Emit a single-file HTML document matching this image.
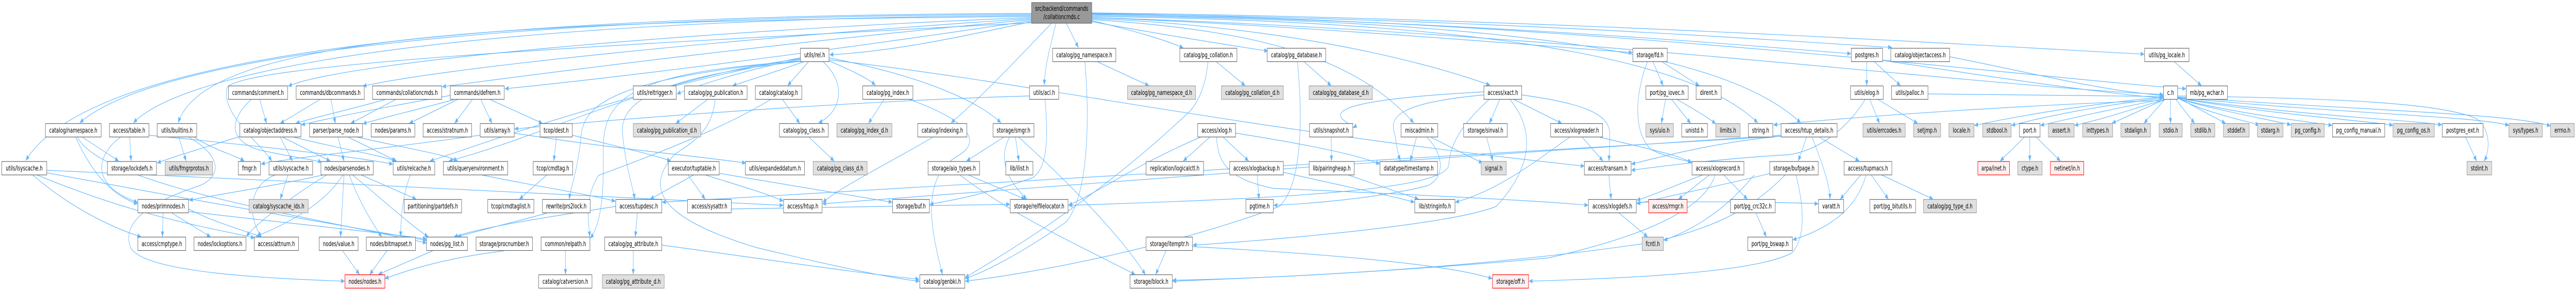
<!DOCTYPE html>
<html><head><meta charset="utf-8"><style>
html,body{margin:0;padding:0;background:#fff;width:100%;height:564px;overflow:hidden;}
svg{display:block;position:absolute;left:0;top:0;width:100vw;height:564px;}
text{font-family:"DejaVu Sans","Liberation Sans",sans-serif;font-size:13px;fill:#000;text-anchor:middle;}
.w{fill:#fff;stroke:#666;stroke-width:1.2;}
.g{fill:#e0e0e0;stroke:#999;stroke-width:1.2;}
.r{fill:#fff0f0;stroke:#f00;stroke-width:1.2;}
.rt{fill:#999;stroke:#666;stroke-width:1.2;}
.e path{fill:none;stroke:#63b8ff;stroke-width:1.2;marker-end:url(#a);}
</style></head><body>
<svg viewBox="0 0 7489 564" preserveAspectRatio="none" xmlns="http://www.w3.org/2000/svg" text-anchor="middle" overflow="hidden">
<defs><marker id="a" markerWidth="11" markerHeight="9" refX="10.5" refY="4.5" orient="auto" markerUnits="userSpaceOnUse"><path d="M0,0 L11,4.5 L0,9 z" fill="#63b8ff"/></marker></defs>
<g class="e">
<path d="M2999,26 C1200,30 250,120 75,311"/>
<path d="M2999,28 C1400,32 450,110 232,238"/>
<path d="M2999,30 C1500,36 560,120 388,238"/>
<path d="M2999,32 C1600,40 600,60 518,238"/>
<path d="M2999,34 C2000,60 1000,120 838,167"/>
<path d="M2999,36 C2200,70 1300,130 1055,167"/>
<path d="M2999,38 C2300,80 1600,140 1286,168"/>
<path d="M2999,40 C2400,100 1800,150 1468,172"/>
<path d="M2999,42 C2800,70 2600,100 2412,106"/>
<path d="M2999,44 C2000,80 700,120 660,170 C640,220 760,280 790,312"/>
<path d="M3057,45 C2950,120 2850,190 2765,238"/>
<path d="M3070,45 C3050,100 3037,130 3036,165"/>
<path d="M3100,45 L3135,92"/>
<path d="M3174,40 C3300,60 3400,80 3440,93"/>
<path d="M3174,42 C3400,70 3600,90 3686,99"/>
<path d="M3174,38 C3700,60 3950,120 4110,238"/>
<path d="M3174,36 C3700,50 4100,110 4332,165"/>
<path d="M3174,34 C3800,50 4500,90 4746,102"/>
<path d="M3174,32 C4200,40 4900,100 5110,238"/>
<path d="M3174,30 C4300,40 5000,90 5235,238"/>
<path d="M3174,28 C4300,40 5100,90 5381,104"/>
<path d="M3174,27 C4300,35 5200,80 5500,92"/>
<path d="M3174,25 C4500,35 5800,90 6234,105"/>
<path d="M3174,26 C4600,40 5900,150 6355,172"/>
<path d="M3174,34 C4500,60 5800,170 6289,183"/>
<path d="M2327,115 C2200,130 2050,160 1968,182"/>
<path d="M2335,120 C2250,140 2180,155 2130,166"/>
<path d="M2350,120 L2290,166"/>
<path d="M2392,119 C2460,160 2450,215 2380,238"/>
<path d="M2410,118 C2470,135 2520,150 2545,165"/>
<path d="M2327,112 C1800,180 1400,280 1250,312"/>
<path d="M2327,114 C1900,150 1600,260 1305,312"/>
<path d="M2327,118 C1800,150 1700,200 1690,260 C1680,330 1660,360 1655,386"/>
<path d="M2327,119 C1900,150 1800,200 1810,260 C1820,330 1840,360 1845,386"/>
<path d="M2327,119 C1800,140 1750,200 1754,300 C1756,400 1740,440 1716,462"/>
<path d="M2410,112 C2700,150 2850,200 2910,238"/>
<path d="M2410,116 C3000,160 3600,250 4606,322"/>
<path d="M95,339 C200,400 320,440 410,459"/>
<path d="M107,339 C400,420 600,440 740,461"/>
<path d="M136,330 C800,350 1800,380 2277,398"/>
<path d="M136,335 C500,380 1000,440 1240,466"/>
<path d="M240,266 L345,312"/>
<path d="M220,266 C270,340 330,380 400,395"/>
<path d="M225,266 C300,360 900,420 1240,471"/>
<path d="M377,266 L381,312"/>
<path d="M350,266 C280,300 260,360 400,392"/>
<path d="M433,262 C700,280 1000,300 1142,318"/>
<path d="M520,266 L541,312"/>
<path d="M565,266 C620,290 680,300 710,312"/>
<path d="M549,266 C640,300 650,340 580,360 C440,390 350,430 380,480 C420,530 800,540 1002,545"/>
<path d="M474,413 L472,459"/>
<path d="M500,413 L612,459"/>
<path d="M548,405 C620,430 700,445 760,459"/>
<path d="M548,410 C800,430 1100,450 1240,463"/>
<path d="M755,193 L775,239"/>
<path d="M730,193 C670,230 660,270 750,290 C850,305 920,310 935,315"/>
<path d="M930,193 L815,239"/>
<path d="M962,193 L975,239"/>
<path d="M1120,193 C1000,215 900,230 860,239"/>
<path d="M1150,193 L1020,239"/>
<path d="M1309,185 C1100,210 950,230 876,242"/>
<path d="M1320,193 C1200,215 1100,230 1055,240"/>
<path d="M1330,193 L1190,239"/>
<path d="M1373,193 L1322,239"/>
<path d="M1398,193 L1430,239"/>
<path d="M1425,193 L1577,239"/>
<path d="M815,266 L850,312"/>
<path d="M822,266 L960,312"/>
<path d="M855,266 C1000,290 1100,300 1150,312"/>
<path d="M700,264 C600,285 520,300 457,316"/>
<path d="M983,266 L1000,312"/>
<path d="M1013,266 L1153,312"/>
<path d="M1040,266 C1200,290 1300,300 1330,312"/>
<path d="M1396,262 C1100,290 850,305 759,318"/>
<path d="M1495,258 C1800,290 2000,300 2168,316"/>
<path d="M1618,266 L1610,312"/>
<path d="M1664,262 C1800,285 1900,300 1950,312"/>
<path d="M837,339 L815,386"/>
<path d="M800,339 C720,360 720,420 760,459"/>
<path d="M1000,339 L990,459"/>
<path d="M1015,339 C1050,400 1090,440 1110,459"/>
<path d="M997,339 C950,390 850,430 745,458"/>
<path d="M1050,339 L1210,386"/>
<path d="M1025,339 C1100,380 1200,440 1245,459"/>
<path d="M940,339 C800,360 650,375 550,388"/>
<path d="M950,339 C850,380 750,430 716,458"/>
<path d="M1193,339 C1170,380 1165,420 1165,459"/>
<path d="M1125,486 L1075,532"/>
<path d="M996,486 L1045,532"/>
<path d="M1258,486 L1100,532"/>
<path d="M1590,339 L1510,386"/>
<path d="M1644,486 L1644,532"/>
<path d="M1853,413 L1847,459"/>
<path d="M1841,486 L1841,532"/>
<path d="M1790,400 C1600,420 1400,440 1320,459"/>
<path d="M1590,413 C1500,430 1400,445 1330,459"/>
<path d="M1400,339 C1550,360 1700,375 1789,390"/>
<path d="M1466,486 C1300,500 1200,520 1119,540"/>
<path d="M2057,193 L1965,239"/>
<path d="M2079,193 C2070,260 2000,280 1960,300 C1880,360 1900,420 2200,480 C2450,520 2600,540 2673,545"/>
<path d="M2275,193 L2325,239"/>
<path d="M2240,193 C2100,250 1900,300 1740,340 C1700,380 1710,430 1715,459"/>
<path d="M2352,266 L2425,312"/>
<path d="M2570,193 L2525,239"/>
<path d="M2645,193 C2800,230 2860,270 2790,300 C2680,340 2700,430 2740,532"/>
<path d="M2712,266 C2600,310 2450,360 2392,392"/>
<path d="M2918,266 L2810,312"/>
<path d="M2952,266 L2962,312"/>
<path d="M2935,266 C2900,310 2930,350 2985,386"/>
<path d="M2962,266 C3100,350 3250,450 3330,532"/>
<path d="M2815,339 L2980,386"/>
<path d="M2790,339 C2950,420 3150,480 3300,532"/>
<path d="M3038,193 C3050,280 3040,330 3000,345 C2850,380 2750,390 2703,396"/>
<path d="M2993,186 C2500,195 1800,230 1496,250"/>
<path d="M2017,339 L1890,386"/>
<path d="M2000,339 L2050,386"/>
<path d="M2050,339 C2150,360 2230,375 2277,390"/>
<path d="M2091,336 C2300,360 2500,380 2594,392"/>
<path d="M1924,475 C2200,500 2500,530 2672,541"/>
<path d="M2126,405 C2500,400 2800,397 2936,396"/>
<path d="M3188,119 L3340,166"/>
<path d="M3154,119 C3170,250 3160,380 3100,430 C2950,500 2850,530 2806,540"/>
<path d="M3535,119 L3620,166"/>
<path d="M3512,119 C3505,170 3480,200 3460,215 C3200,380 2950,480 2806,538"/>
<path d="M3790,119 L3870,166"/>
<path d="M3772,119 C3790,250 3780,360 3720,400 C3400,480 3000,530 2806,545"/>
<path d="M3517,266 L3440,312"/>
<path d="M3556,266 L3630,312"/>
<path d="M3490,266 C3300,320 3200,370 3106,398"/>
<path d="M3537,266 C3540,330 3600,350 3700,365 C4200,380 4500,390 4617,398"/>
<path d="M3592,258 C3800,280 3950,300 4011,318"/>
<path d="M3655,339 L3660,386"/>
<path d="M3731,334 C3900,360 4050,380 4112,392"/>
<path d="M3390,486 L3360,532"/>
<path d="M3467,478 C3800,490 4200,510 4338,540"/>
<path d="M3870,266 L3871,312"/>
<path d="M3919,339 L4124,386"/>
<path d="M4118,266 L4100,312"/>
<path d="M4160,266 L4310,316"/>
<path d="M4148,266 C4200,300 4200,345 4150,360 C4000,385 3800,395 3703,398"/>
<path d="M4360,193 L4330,239"/>
<path d="M4314,184 C4050,200 4040,230 4055,260 C4060,285 4065,300 4071,311"/>
<path d="M4402,193 L4540,239"/>
<path d="M4424,184 C4600,200 4680,220 4680,260 C4680,285 4678,300 4678,312"/>
<path d="M4329,193 C4250,240 4215,280 4212,320 C4200,370 3700,385 3107,398"/>
<path d="M4390,193 C4460,250 4460,320 4350,400 C4200,440 3600,470 3468,475"/>
<path d="M4314,178 C3700,200 3950,240 3934,248"/>
<path d="M4322,266 L4340,312"/>
<path d="M4600,266 L4660,312"/>
<path d="M4652,266 C4800,290 4880,300 4919,316"/>
<path d="M4563,266 C4450,320 4350,370 4231,392"/>
<path d="M4677,339 L4684,386"/>
<path d="M4707,413 L4790,459"/>
<path d="M4970,339 L4880,386"/>
<path d="M4950,339 C4850,365 4800,380 4758,388"/>
<path d="M5011,339 L5080,386"/>
<path d="M4986,339 C4950,420 4700,470 4500,500 C4000,530 3600,540 3409,545"/>
<path d="M4805,119 L4835,166"/>
<path d="M4830,119 L4940,166"/>
<path d="M4790,119 C4760,170 4740,250 4800,290 C4850,305 4890,310 4918,314"/>
<path d="M4842,193 L4830,239"/>
<path d="M4860,193 L4915,239"/>
<path d="M4876,193 C4920,210 4960,225 4988,240"/>
<path d="M5100,339 C5000,420 4900,450 4837,466"/>
<path d="M5427,119 L5427,166"/>
<path d="M5448,119 L5525,166"/>
<path d="M5473,117 C5800,150 6100,180 6289,190"/>
<path d="M5605,182 C5900,185 6100,186 6289,187"/>
<path d="M5668,110 C5900,140 6100,175 6289,185"/>
<path d="M5436,193 L5464,239"/>
<path d="M5460,193 L5575,239"/>
<path d="M5422,193 C5380,240 5300,290 5200,300 C5050,305 4850,320 4743,330"/>
<path d="M6290,195 C6000,200 5500,220 5156,242"/>
<path d="M5252,266 L5228,312"/>
<path d="M5268,266 C5300,320 5320,360 5320,386"/>
<path d="M5290,266 L5405,312"/>
<path d="M5178,262 C4500,290 3000,360 2391,395"/>
<path d="M5178,264 C4500,300 2500,360 1925,392"/>
<path d="M5178,264 C5000,275 4850,300 4743,318"/>
<path d="M5147,336 C5000,360 4850,380 4758,395"/>
<path d="M5190,339 C5100,400 5000,440 4800,470 C4300,520 3700,540 3409,543"/>
<path d="M5221,339 C5245,400 5250,460 5210,490 C5100,530 4700,540 4445,545"/>
<path d="M5410,339 L5350,386"/>
<path d="M5425,339 C5400,400 5330,440 5212,465"/>
<path d="M5440,339 L5490,386"/>
<path d="M5470,339 L5620,386"/>
<path d="M5105,413 L5135,459"/>
<path d="M4757,392 C5000,390 5200,392 5286,395"/>
<path d="M5885,266 L5815,312"/>
<path d="M5901,266 L5901,312"/>
<path d="M5920,266 L5990,312"/>
<path d="M6290,188 C6100,200 5900,220 5740,243"/>
<path d="M6290,190 C6100,205 5950,225 5848,243"/>
<path d="M6290,192 C6150,210 6050,225 5932,243"/>
<path d="M6290,194 C6200,210 6150,225 6031,243"/>
<path d="M6292,193 L6140,239"/>
<path d="M6293,193 L6233,239"/>
<path d="M6310,193 L6310,239"/>
<path d="M6326,193 L6380,239"/>
<path d="M6331,189 L6470,239"/>
<path d="M6331,190 C6400,215 6500,230 6568,242"/>
<path d="M6331,191 C6450,215 6600,232 6660,242"/>
<path d="M6331,191 C6500,220 6700,235 6780,243"/>
<path d="M6331,190 C6600,222 6900,235 6957,243"/>
<path d="M6331,190 C6700,225 7000,232 7099,242"/>
<path d="M6331,189 C6800,220 7200,225 7294,243"/>
<path d="M6331,188 C6900,215 7300,220 7415,244"/>
<path d="M6331,186 C6800,190 7100,200 7200,230 C7240,250 7240,290 7222,312"/>
<path d="M6320,119 L6400,166"/>
<path d="M7168,266 L7200,312"/>
</g>
<rect class="rt" x="2999" y="5" width="175" height="40"/>
<text x="3086.5" y="21" text-anchor="middle">src/backend/commands</text>
<text x="3086.5" y="37" text-anchor="middle">/collationcmds.c</text>
<g text-anchor="middle">
<rect class="w" x="2327" y="93.5" width="83" height="26"/><text x="2368.5" y="111">utils/rel.h</text>
<rect class="w" x="3060" y="93.5" width="184" height="26"/><text x="3152" y="111">catalog/pg_namespace.h</text>
<rect class="w" x="3430" y="93.5" width="166" height="26"/><text x="3513" y="111">catalog/pg_collation.h</text>
<rect class="w" x="3684" y="93.5" width="170" height="26"/><text x="3769" y="111">catalog/pg_database.h</text>
<rect class="w" x="4747" y="93.5" width="100" height="26"/><text x="4797" y="111">storage/fd.h</text>
<rect class="w" x="5382" y="93.5" width="91" height="26"/><text x="5427.5" y="111">postgres.h</text>
<rect class="w" x="5497" y="93.5" width="171" height="26"/><text x="5582.5" y="111">catalog/objectaccess.h</text>
<rect class="w" x="6235" y="93.5" width="129" height="26"/><text x="6299.5" y="111">utils/pg_locale.h</text>

<rect class="w" x="664" y="166.5" width="172" height="26"/><text x="750" y="184">commands/comment.h</text>
<rect class="w" x="861" y="166.5" width="198" height="26"/><text x="960" y="184">commands/dbcommands.h</text>
<rect class="w" x="1083" y="166.5" width="201" height="26"/><text x="1183.5" y="184">commands/collationcmds.h</text>
<rect class="w" x="1309" y="166.5" width="157" height="26"/><text x="1387.5" y="184">commands/defrem.h</text>
<rect class="w" x="1841" y="166.5" width="125" height="26"/><text x="1903.5" y="184">utils/reltrigger.h</text>
<rect class="w" x="1990" y="166.5" width="182" height="26"/><text x="2081" y="184">catalog/pg_publication.h</text>
<rect class="w" x="2196" y="166.5" width="135" height="26"/><text x="2263.5" y="184">catalog/catalog.h</text>
<rect class="w" x="2508" y="166.5" width="146" height="26"/><text x="2581" y="184">catalog/pg_index.h</text>
<rect class="w" x="2993" y="166.5" width="85" height="26"/><text x="3035.5" y="184">utils/acl.h</text>
<rect class="g" x="3278" y="166.5" width="198" height="26"/><text x="3377" y="184">catalog/pg_namespace_d.h</text>
<rect class="g" x="3551" y="166.5" width="180" height="26"/><text x="3641" y="184">catalog/pg_collation_d.h</text>
<rect class="g" x="3806" y="166.5" width="184" height="26"/><text x="3898" y="184">catalog/pg_database_d.h</text>
<rect class="w" x="4314" y="166.5" width="110" height="26"/><text x="4369" y="184">access/xact.h</text>
<rect class="w" x="4785" y="166.5" width="123" height="26"/><text x="4846.5" y="184">port/pg_iovec.h</text>
<rect class="w" x="4931" y="166.5" width="73" height="26"/><text x="4967.5" y="184">dirent.h</text>
<rect class="w" x="5380" y="166.5" width="95" height="26"/><text x="5427.5" y="184">utils/elog.h</text>
<rect class="w" x="5499" y="166.5" width="106" height="26"/><text x="5552" y="184">utils/palloc.h</text>
<rect class="w" x="6290" y="166.5" width="41" height="26"/><text x="6310.5" y="184">c.h</text>
<rect class="w" x="6356" y="166.5" width="120" height="26"/><text x="6416" y="184">mb/pg_wchar.h</text>

<rect class="w" x="132" y="239.5" width="162" height="26"/><text x="213" y="257">catalog/namespace.h</text>
<rect class="w" x="318" y="239.5" width="115" height="26"/><text x="375.5" y="257">access/table.h</text>
<rect class="w" x="457" y="239.5" width="115" height="26"/><text x="514.5" y="257">utils/builtins.h</text>
<rect class="w" x="697" y="239.5" width="178" height="26"/><text x="786" y="257">catalog/objectaddress.h</text>
<rect class="w" x="900" y="239.5" width="154" height="26"/><text x="977" y="257">parser/parse_node.h</text>
<rect class="w" x="1079" y="239.5" width="127" height="26"/><text x="1142.5" y="257">nodes/params.h</text>
<rect class="w" x="1230" y="239.5" width="141" height="26"/><text x="1300.5" y="257">access/stratnum.h</text>
<rect class="w" x="1396" y="239.5" width="99" height="26"/><text x="1445.5" y="257">utils/array.h</text>
<rect class="w" x="1570" y="239.5" width="94" height="26"/><text x="1617" y="257">tcop/dest.h</text>
<rect class="g" x="1841" y="239.5" width="196" height="26"/><text x="1939" y="257">catalog/pg_publication_d.h</text>
<rect class="w" x="2266" y="239.5" width="142" height="26"/><text x="2337" y="257">catalog/pg_class.h</text>
<rect class="g" x="2433" y="239.5" width="160" height="26"/><text x="2513" y="257">catalog/pg_index_d.h</text>
<rect class="w" x="2668" y="239.5" width="143" height="26"/><text x="2739.5" y="257">catalog/indexing.h</text>
<rect class="w" x="2887" y="239.5" width="119" height="26"/><text x="2946.5" y="257">storage/smgr.h</text>
<rect class="w" x="3482" y="239.5" width="110" height="26"/><text x="3537" y="257">access/xlog.h</text>
<rect class="w" x="3807" y="239.5" width="126" height="26"/><text x="3870" y="257">utils/snapshot.h</text>
<rect class="w" x="4073" y="239.5" width="107" height="26"/><text x="4126.5" y="257">miscadmin.h</text>
<rect class="w" x="4255" y="239.5" width="127" height="26"/><text x="4318.5" y="257">storage/sinval.h</text>
<rect class="w" x="4508" y="239.5" width="151" height="26"/><text x="4583.5" y="257">access/xlogreader.h</text>
<rect class="g" x="4785" y="239.5" width="80" height="26"/><text x="4825" y="257">sys/uio.h</text>
<rect class="w" x="4889" y="239.5" width="75" height="26"/><text x="4926.5" y="257">unistd.h</text>
<rect class="g" x="4988" y="239.5" width="71" height="26"/><text x="5023.5" y="257">limits.h</text>
<rect class="w" x="5083" y="239.5" width="71" height="26"/><text x="5118.5" y="257">string.h</text>
<rect class="w" x="5178" y="239.5" width="163" height="26"/><text x="5259.5" y="257">access/htup_details.h</text>
<rect class="g" x="5416" y="239.5" width="123" height="26"/><text x="5477.5" y="257">utils/errcodes.h</text>
<rect class="g" x="5563" y="239.5" width="79" height="26"/><text x="5602.5" y="257">setjmp.h</text>
<rect class="g" x="5666" y="239.5" width="73" height="26"/><text x="5702.5" y="257">locale.h</text>
<rect class="g" x="5764" y="239.5" width="83" height="26"/><text x="5805.5" y="257">stdbool.h</text>
<rect class="w" x="5871" y="239.5" width="60" height="26"/><text x="5901" y="257">port.h</text>
<rect class="g" x="5955" y="239.5" width="75" height="26"/><text x="5992.5" y="257">assert.h</text>
<rect class="g" x="6055" y="239.5" width="87" height="26"/><text x="6098.5" y="257">inttypes.h</text>
<rect class="g" x="6166" y="239.5" width="86" height="26"/><text x="6209" y="257">stdalign.h</text>
<rect class="g" x="6277" y="239.5" width="67" height="26"/><text x="6310.5" y="257">stdio.h</text>
<rect class="g" x="6369" y="239.5" width="70" height="26"/><text x="6404" y="257">stdlib.h</text>
<rect class="g" x="6464" y="239.5" width="75" height="26"/><text x="6501.5" y="257">stddef.h</text>
<rect class="g" x="6563" y="239.5" width="74" height="26"/><text x="6600" y="257">stdarg.h</text>
<rect class="g" x="6661" y="239.5" width="96" height="26"/><text x="6709" y="257">pg_config.h</text>
<rect class="w" x="6781" y="239.5" width="152" height="26"/><text x="6857" y="257">pg_config_manual.h</text>
<rect class="g" x="6957" y="239.5" width="120" height="26"/><text x="7017" y="257">pg_config_os.h</text>
<rect class="w" x="7100" y="239.5" width="119" height="26"/><text x="7159.5" y="257">postgres_ext.h</text>
<rect class="g" x="7294" y="239.5" width="97" height="26"/><text x="7342.5" y="257">sys/types.h</text>
<rect class="g" x="7415" y="239.5" width="69" height="26"/><text x="7449.5" y="257">errno.h</text>

<rect class="w" x="5" y="313" width="131" height="26"/><text x="70.5" y="330.5">utils/lsyscache.h</text>
<rect class="w" x="312" y="313" width="143" height="26"/><text x="383.5" y="330.5">storage/lockdefs.h</text>
<rect class="g" x="480" y="313" width="138" height="26"/><text x="549" y="330.5">utils/fmgrprotos.h</text>
<rect class="w" x="693" y="313" width="64" height="26"/><text x="725" y="330.5">fmgr.h</text>
<rect class="w" x="782" y="313" width="127" height="26"/><text x="845.5" y="330.5">utils/syscache.h</text>
<rect class="w" x="933" y="313" width="152" height="26"/><text x="1009" y="330.5">nodes/parsenodes.h</text>
<rect class="w" x="1143" y="313" width="121" height="26"/><text x="1203.5" y="330.5">utils/relcache.h</text>
<rect class="w" x="1289" y="313" width="187" height="26"/><text x="1382.5" y="330.5">utils/queryenvironment.h</text>
<rect class="w" x="1550" y="313" width="115" height="26"/><text x="1607.5" y="330.5">tcop/cmdtag.h</text>
<rect class="w" x="1943" y="313" width="148" height="26"/><text x="2017" y="330.5">executor/tuptable.h</text>
<rect class="w" x="2167" y="313" width="172" height="26"/><text x="2253" y="330.5">utils/expandeddatum.h</text>
<rect class="g" x="2364" y="313" width="157" height="26"/><text x="2442.5" y="330.5">catalog/pg_class_d.h</text>
<rect class="w" x="2698" y="313" width="150" height="26"/><text x="2773" y="330.5">storage/aio_types.h</text>
<rect class="w" x="2924" y="313" width="79" height="26"/><text x="2963.5" y="330.5">lib/ilist.h</text>
<rect class="w" x="3332" y="313" width="167" height="26"/><text x="3415.5" y="330.5">replication/logicalctl.h</text>
<rect class="w" x="3575" y="313" width="156" height="26"/><text x="3653" y="330.5">access/xlogbackup.h</text>
<rect class="w" x="3806" y="313" width="131" height="26"/><text x="3871.5" y="330.5">lib/pairingheap.h</text>
<rect class="w" x="4012" y="313" width="167" height="26"/><text x="4095.5" y="330.5">datatype/timestamp.h</text>
<rect class="g" x="4306" y="313" width="73" height="26"/><text x="4342.5" y="330.5">signal.h</text>
<rect class="w" x="4606" y="313" width="136" height="26"/><text x="4674" y="330.5">access/transam.h</text>
<rect class="w" x="4919" y="313" width="151" height="26"/><text x="4994.5" y="330.5">access/xlogrecord.h</text>
<rect class="w" x="5145" y="313" width="141" height="26"/><text x="5215.5" y="330.5">storage/bufpage.h</text>
<rect class="w" x="5361" y="313" width="139" height="26"/><text x="5430.5" y="330.5">access/tupmacs.h</text>
<rect class="r" x="5750" y="313" width="92" height="26"/><text x="5796" y="330.5">arpa/inet.h</text>
<rect class="g" x="5866" y="313" width="71" height="26"/><text x="5901.5" y="330.5">ctype.h</text>
<rect class="r" x="5961" y="313" width="97" height="26"/><text x="6009.5" y="330.5">netinet/in.h</text>
<rect class="g" x="7172" y="313" width="72" height="26"/><text x="7208" y="330.5">stdint.h</text>

<rect class="w" x="401" y="386.5" width="147" height="26"/><text x="474.5" y="404">nodes/primnodes.h</text>
<rect class="g" x="724" y="386.5" width="172" height="26"/><text x="810" y="404">catalog/syscache_ids.h</text>
<rect class="w" x="1175" y="386.5" width="167" height="26"/><text x="1258.5" y="404">partitioning/partdefs.h</text>
<rect class="w" x="1418" y="386.5" width="134" height="26"/><text x="1485" y="404">tcop/cmdtaglist.h</text>
<rect class="w" x="1577" y="386.5" width="139" height="26"/><text x="1646.5" y="404">rewrite/prs2lock.h</text>
<rect class="w" x="1790" y="386.5" width="134" height="26"/><text x="1857" y="404">access/tupdesc.h</text>
<rect class="w" x="1999" y="386.5" width="127" height="26"/><text x="2062.5" y="404">access/sysattr.h</text>
<rect class="w" x="2278" y="386.5" width="112" height="26"/><text x="2334" y="404">access/htup.h</text>
<rect class="w" x="2595" y="386.5" width="107" height="26"/><text x="2648.5" y="404">storage/buf.h</text>
<rect class="w" x="2937" y="386.5" width="168" height="26"/><text x="3021" y="404">storage/relfilelocator.h</text>
<rect class="w" x="3622" y="386.5" width="80" height="26"/><text x="3662" y="404">pgtime.h</text>
<rect class="w" x="4113" y="386.5" width="117" height="26"/><text x="4171.5" y="404">lib/stringinfo.h</text>
<rect class="w" x="4618" y="386.5" width="139" height="26"/><text x="4687.5" y="404">access/xlogdefs.h</text>
<rect class="r" x="4793" y="386.5" width="112" height="26"/><text x="4849" y="404">access/rmgr.h</text>
<rect class="w" x="5031" y="386.5" width="130" height="26"/><text x="5096" y="404">port/pg_crc32c.h</text>
<rect class="w" x="5287" y="386.5" width="73" height="26"/><text x="5323.5" y="404">varatt.h</text>
<rect class="w" x="5436" y="386.5" width="133" height="26"/><text x="5502.5" y="404">port/pg_bitutils.h</text>
<rect class="g" x="5592" y="386.5" width="154" height="26"/><text x="5669" y="404">catalog/pg_type_d.h</text>

<rect class="w" x="401" y="459.5" width="139" height="26"/><text x="470.5" y="477">access/cmptype.h</text>
<rect class="w" x="564" y="459.5" width="151" height="26"/><text x="639.5" y="477">nodes/lockoptions.h</text>
<rect class="w" x="739" y="459.5" width="129" height="26"/><text x="803.5" y="477">access/attnum.h</text>
<rect class="w" x="928" y="459.5" width="113" height="26"/><text x="984.5" y="477">nodes/value.h</text>
<rect class="w" x="1065" y="459.5" width="143" height="26"/><text x="1136.5" y="477">nodes/bitmapset.h</text>
<rect class="w" x="1240" y="459.5" width="119" height="26"/><text x="1299.5" y="477">nodes/pg_list.h</text>
<rect class="w" x="1384" y="459.5" width="164" height="26"/><text x="1466" y="477">storage/procnumber.h</text>
<rect class="w" x="1573" y="459.5" width="142" height="26"/><text x="1644" y="477">common/relpath.h</text>
<rect class="w" x="1758" y="459.5" width="166" height="26"/><text x="1841" y="477">catalog/pg_attribute.h</text>
<rect class="w" x="3332" y="459.5" width="135" height="26"/><text x="3399.5" y="477">storage/itemptr.h</text>
<rect class="g" x="4774" y="459.5" width="62" height="26"/><text x="4805" y="477">fcntl.h</text>
<rect class="w" x="5081" y="459.5" width="130" height="26"/><text x="5146" y="477">port/pg_bswap.h</text>

<rect class="r" x="1003" y="532.5" width="116" height="26"/><text x="1061" y="550">nodes/nodes.h</text>
<rect class="w" x="1566" y="532.5" width="155" height="26"/><text x="1643.5" y="550">catalog/catversion.h</text>
<rect class="g" x="1751" y="532.5" width="180" height="26"/><text x="1841" y="550">catalog/pg_attribute_d.h</text>
<rect class="w" x="2674" y="532.5" width="131" height="26"/><text x="2739.5" y="550">catalog/genbki.h</text>
<rect class="w" x="3285" y="532.5" width="123" height="26"/><text x="3346.5" y="550">storage/block.h</text>
<rect class="r" x="4339" y="532.5" width="105" height="26"/><text x="4391.5" y="550">storage/off.h</text>
</g>
</svg>
</body></html>
